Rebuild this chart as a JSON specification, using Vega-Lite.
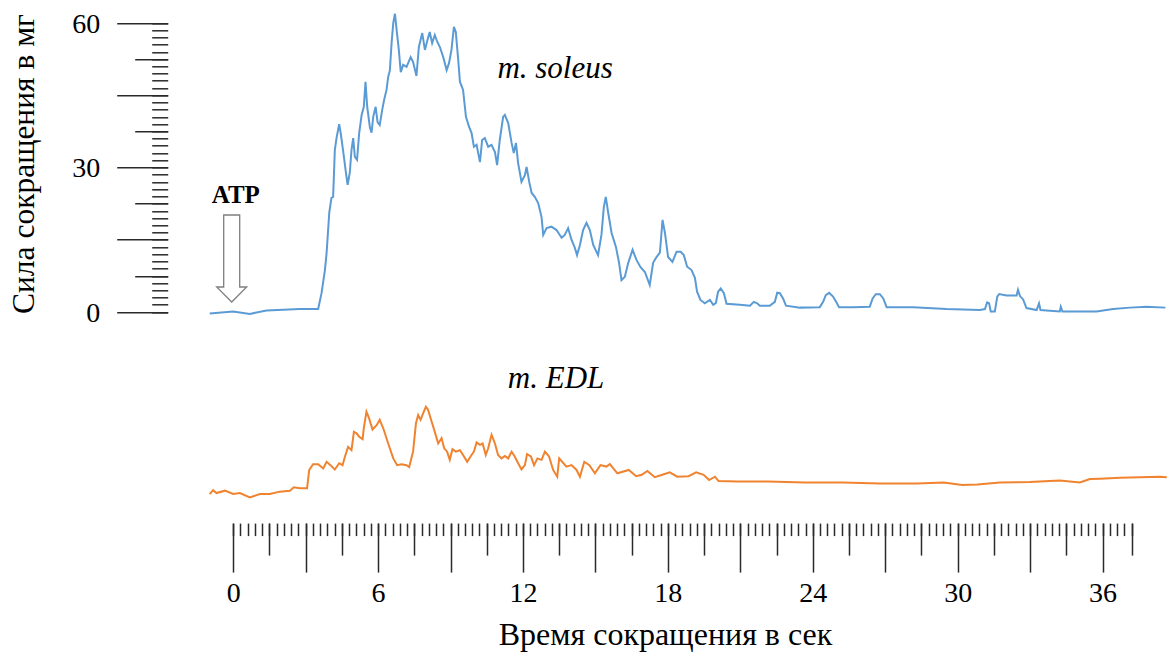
{
  "$schema": "https://vega.github.io/schema/vega-lite/v6.json",
  "width": 959,
  "height": 505.8,
  "autosize": {"type": "none"},
  "padding": {"left": 209, "top": 13.3, "right": 0, "bottom": 133},
  "background": "white",
  "config": {
    "view": {"stroke": null},
    "font": "Liberation Serif",
    "axis": {
      "grid": false,
      "domain": false,
      "tickColor": "#2a2a2a",
      "tickWidth": 1.5,
      "labelFont": "Liberation Serif",
      "titleFont": "Liberation Serif",
      "labelColor": "black",
      "titleColor": "black",
      "labelFontSize": 28,
      "titleFontSize": 32,
      "titleFontWeight": "normal",
      "labelOverlap": false,
      "labelFlush": false
    }
  },
  "datasets": {
    "soleus": [
      {"t": -0.97, "v": -0.3}, {"t": 0, "v": 0.1}, {"t": 0.69, "v": -0.4}, {"t": 1.38, "v": 0.3}, {"t": 2.76, "v": 0.6}, {"t": 3.52, "v": 0.6},
      {"t": 3.66, "v": 3.9}, {"t": 3.8, "v": 8.7}, {"t": 3.87, "v": 12.3}, {"t": 3.98, "v": 20.6}, {"t": 4.07, "v": 23.7}, {"t": 4.14, "v": 23.9},
      {"t": 4.21, "v": 33.6}, {"t": 4.28, "v": 36.1}, {"t": 4.39, "v": 39.0}, {"t": 4.45, "v": 37.2}, {"t": 4.55, "v": 33.6}, {"t": 4.67, "v": 28.9},
      {"t": 4.74, "v": 26.4}, {"t": 4.83, "v": 28.9}, {"t": 4.9, "v": 33.6}, {"t": 4.97, "v": 36.1}, {"t": 5.04, "v": 32.2}, {"t": 5.13, "v": 31.6},
      {"t": 5.22, "v": 37.2}, {"t": 5.32, "v": 40.9}, {"t": 5.41, "v": 42.6}, {"t": 5.48, "v": 47.8}, {"t": 5.55, "v": 42.6}, {"t": 5.66, "v": 38.4},
      {"t": 5.73, "v": 37.2}, {"t": 5.8, "v": 40.5}, {"t": 5.9, "v": 42.6}, {"t": 5.98, "v": 39.4}, {"t": 6.07, "v": 38.8}, {"t": 6.17, "v": 41.9},
      {"t": 6.25, "v": 44.0}, {"t": 6.35, "v": 46.1}, {"t": 6.42, "v": 48.8}, {"t": 6.49, "v": 50.2}, {"t": 6.56, "v": 55.8}, {"t": 6.63, "v": 60.0},
      {"t": 6.7, "v": 61.9}, {"t": 6.77, "v": 58.5}, {"t": 6.86, "v": 54.4}, {"t": 6.94, "v": 49.8}, {"t": 7.04, "v": 51.3}, {"t": 7.18, "v": 50.9},
      {"t": 7.35, "v": 52.9}, {"t": 7.45, "v": 51.9}, {"t": 7.59, "v": 49.0}, {"t": 7.69, "v": 55.0}, {"t": 7.83, "v": 57.9}, {"t": 7.94, "v": 54.4},
      {"t": 8.07, "v": 56.9}, {"t": 8.14, "v": 58.1}, {"t": 8.24, "v": 55.8}, {"t": 8.35, "v": 57.5}, {"t": 8.45, "v": 56.1}, {"t": 8.56, "v": 55.0},
      {"t": 8.7, "v": 52.9}, {"t": 8.84, "v": 50.2}, {"t": 8.94, "v": 51.7}, {"t": 9.04, "v": 54.4}, {"t": 9.14, "v": 59.2}, {"t": 9.22, "v": 58.1},
      {"t": 9.32, "v": 52.3}, {"t": 9.39, "v": 47.8}, {"t": 9.52, "v": 46.1}, {"t": 9.64, "v": 40.5}, {"t": 9.77, "v": 38.4}, {"t": 9.87, "v": 37.2},
      {"t": 9.97, "v": 34.3}, {"t": 10.08, "v": 34.7}, {"t": 10.22, "v": 31.1}, {"t": 10.31, "v": 35.7}, {"t": 10.42, "v": 36.1}, {"t": 10.56, "v": 34.3},
      {"t": 10.7, "v": 34.7}, {"t": 10.84, "v": 33.2}, {"t": 10.93, "v": 30.5}, {"t": 11.04, "v": 35.7}, {"t": 11.18, "v": 40.5}, {"t": 11.25, "v": 40.9},
      {"t": 11.39, "v": 39.2}, {"t": 11.53, "v": 35.1}, {"t": 11.62, "v": 33.0}, {"t": 11.71, "v": 35.1}, {"t": 11.8, "v": 30.9}, {"t": 11.94, "v": 27.0},
      {"t": 12.08, "v": 28.4}, {"t": 12.15, "v": 30.1}, {"t": 12.26, "v": 27.0}, {"t": 12.36, "v": 24.7}, {"t": 12.49, "v": 23.9}, {"t": 12.63, "v": 22.6},
      {"t": 12.77, "v": 19.7}, {"t": 12.84, "v": 16.0}, {"t": 12.98, "v": 17.4}, {"t": 13.18, "v": 17.7}, {"t": 13.39, "v": 17.0}, {"t": 13.6, "v": 15.4},
      {"t": 13.73, "v": 16.0}, {"t": 13.87, "v": 17.4}, {"t": 14.01, "v": 15.0}, {"t": 14.15, "v": 13.3}, {"t": 14.24, "v": 11.8}, {"t": 14.36, "v": 13.9},
      {"t": 14.49, "v": 17.0}, {"t": 14.63, "v": 18.5}, {"t": 14.77, "v": 17.0}, {"t": 14.91, "v": 13.9}, {"t": 15.11, "v": 11.8}, {"t": 15.25, "v": 16.0},
      {"t": 15.35, "v": 21.8}, {"t": 15.43, "v": 23.9}, {"t": 15.53, "v": 20.6}, {"t": 15.67, "v": 16.4}, {"t": 15.85, "v": 13.5}, {"t": 15.98, "v": 10.2},
      {"t": 16.08, "v": 6.6}, {"t": 16.22, "v": 7.3}, {"t": 16.36, "v": 10.2}, {"t": 16.54, "v": 12.9}, {"t": 16.7, "v": 10.8}, {"t": 16.87, "v": 9.3},
      {"t": 17.05, "v": 8.3}, {"t": 17.25, "v": 5.6}, {"t": 17.39, "v": 10.2}, {"t": 17.53, "v": 11.4}, {"t": 17.67, "v": 12.3}, {"t": 17.78, "v": 19.1},
      {"t": 17.88, "v": 16.4}, {"t": 18.01, "v": 11.4}, {"t": 18.19, "v": 10.4}, {"t": 18.36, "v": 12.5}, {"t": 18.53, "v": 12.5}, {"t": 18.66, "v": 11.8},
      {"t": 18.8, "v": 9.4}, {"t": 18.98, "v": 8.7}, {"t": 19.12, "v": 7.1}, {"t": 19.21, "v": 4.2}, {"t": 19.35, "v": 2.5}, {"t": 19.53, "v": 1.8},
      {"t": 19.74, "v": 2.5}, {"t": 19.88, "v": 1.5}, {"t": 19.99, "v": 1.9}, {"t": 20.08, "v": 4.2}, {"t": 20.19, "v": 4.9}, {"t": 20.32, "v": 3.9},
      {"t": 20.43, "v": 1.7}, {"t": 20.98, "v": 1.5}, {"t": 21.4, "v": 1.3}, {"t": 21.56, "v": 2.1}, {"t": 21.7, "v": 1.8}, {"t": 21.81, "v": 1.3},
      {"t": 22.22, "v": 1.3}, {"t": 22.43, "v": 2.1}, {"t": 22.53, "v": 4.0}, {"t": 22.64, "v": 3.9}, {"t": 22.77, "v": 2.8}, {"t": 22.89, "v": 1.3},
      {"t": 23.47, "v": 0.9}, {"t": 24.29, "v": 1.0}, {"t": 24.43, "v": 2.1}, {"t": 24.54, "v": 3.5}, {"t": 24.68, "v": 4.0}, {"t": 24.84, "v": 3.2},
      {"t": 24.99, "v": 1.9}, {"t": 25.09, "v": 1.0}, {"t": 25.67, "v": 1.0}, {"t": 26.36, "v": 1.1}, {"t": 26.48, "v": 2.8}, {"t": 26.61, "v": 3.7},
      {"t": 26.78, "v": 3.7}, {"t": 26.92, "v": 2.8}, {"t": 27.06, "v": 1.0}, {"t": 28.16, "v": 1.0}, {"t": 29.54, "v": 0.6}, {"t": 30.92, "v": 0.4},
      {"t": 31.13, "v": 0.6}, {"t": 31.22, "v": 2.0}, {"t": 31.3, "v": 1.8}, {"t": 31.37, "v": 0.1}, {"t": 31.54, "v": 0.1}, {"t": 31.64, "v": 3.2},
      {"t": 31.72, "v": 3.7}, {"t": 32.02, "v": 3.4}, {"t": 32.44, "v": 3.4}, {"t": 32.5, "v": 4.6}, {"t": 32.58, "v": 3.3}, {"t": 32.71, "v": 2.6},
      {"t": 32.85, "v": 0.8}, {"t": 33.27, "v": 0.4}, {"t": 33.37, "v": 1.8}, {"t": 33.43, "v": 0.4}, {"t": 33.68, "v": 0.3}, {"t": 34.23, "v": 0.1},
      {"t": 34.27, "v": 1.1}, {"t": 34.34, "v": 0.1}, {"t": 35.06, "v": 0.1}, {"t": 35.75, "v": 0.1}, {"t": 36.44, "v": 0.6}, {"t": 37.13, "v": 0.9},
      {"t": 37.82, "v": 1.1}, {"t": 38.6, "v": 0.9}
    ],
    "edl": [
      {"t": -0.97, "v": -37.8}, {"t": -0.83, "v": -37.0}, {"t": -0.69, "v": -37.6}, {"t": -0.34, "v": -37.1}, {"t": 0, "v": -37.8}, {"t": 0.28, "v": -37.6},
      {"t": 0.69, "v": -38.5}, {"t": 1.11, "v": -37.8}, {"t": 1.52, "v": -37.8}, {"t": 1.93, "v": -37.3}, {"t": 2.35, "v": -37.1}, {"t": 2.51, "v": -36.4},
      {"t": 2.76, "v": -36.6}, {"t": 3.06, "v": -36.6}, {"t": 3.15, "v": -32.8}, {"t": 3.31, "v": -31.6}, {"t": 3.52, "v": -31.6}, {"t": 3.73, "v": -32.5},
      {"t": 3.87, "v": -31.1}, {"t": 4.03, "v": -31.8}, {"t": 4.21, "v": -32.7}, {"t": 4.39, "v": -31.4}, {"t": 4.53, "v": -31.8}, {"t": 4.63, "v": -30.0},
      {"t": 4.76, "v": -28.0}, {"t": 4.9, "v": -28.7}, {"t": 5.0, "v": -24.9}, {"t": 5.11, "v": -25.2}, {"t": 5.22, "v": -25.9}, {"t": 5.36, "v": -26.4},
      {"t": 5.41, "v": -24.1}, {"t": 5.52, "v": -20.7}, {"t": 5.63, "v": -22.1}, {"t": 5.77, "v": -24.4}, {"t": 5.94, "v": -23.5}, {"t": 6.07, "v": -22.4},
      {"t": 6.24, "v": -24.5}, {"t": 6.42, "v": -27.3}, {"t": 6.63, "v": -30.4}, {"t": 6.79, "v": -31.8}, {"t": 6.97, "v": -31.6}, {"t": 7.18, "v": -31.8},
      {"t": 7.29, "v": -32.2}, {"t": 7.45, "v": -29.0}, {"t": 7.57, "v": -23.1}, {"t": 7.66, "v": -21.4}, {"t": 7.76, "v": -22.4}, {"t": 7.87, "v": -21.0},
      {"t": 7.98, "v": -19.7}, {"t": 8.07, "v": -20.3}, {"t": 8.22, "v": -22.8}, {"t": 8.35, "v": -24.9}, {"t": 8.49, "v": -27.3}, {"t": 8.63, "v": -26.2},
      {"t": 8.74, "v": -28.3}, {"t": 8.86, "v": -29.0}, {"t": 8.97, "v": -30.7}, {"t": 9.08, "v": -28.5}, {"t": 9.22, "v": -29.0}, {"t": 9.39, "v": -28.7},
      {"t": 9.52, "v": -29.7}, {"t": 9.69, "v": -31.1}, {"t": 9.87, "v": -29.7}, {"t": 9.97, "v": -29.0}, {"t": 10.08, "v": -27.1}, {"t": 10.22, "v": -27.6},
      {"t": 10.33, "v": -27.3}, {"t": 10.46, "v": -29.7}, {"t": 10.56, "v": -28.3}, {"t": 10.7, "v": -25.5}, {"t": 10.84, "v": -27.3}, {"t": 10.97, "v": -29.7},
      {"t": 11.11, "v": -30.4}, {"t": 11.25, "v": -29.9}, {"t": 11.39, "v": -30.4}, {"t": 11.53, "v": -29.0}, {"t": 11.66, "v": -30.0}, {"t": 11.8, "v": -31.4},
      {"t": 11.94, "v": -32.7}, {"t": 12.08, "v": -31.8}, {"t": 12.17, "v": -29.5}, {"t": 12.33, "v": -30.0}, {"t": 12.46, "v": -31.8}, {"t": 12.6, "v": -30.4},
      {"t": 12.77, "v": -30.7}, {"t": 12.91, "v": -29.0}, {"t": 13.08, "v": -30.0}, {"t": 13.25, "v": -32.8}, {"t": 13.42, "v": -34.2}, {"t": 13.5, "v": -30.4},
      {"t": 13.66, "v": -31.3}, {"t": 13.8, "v": -32.1}, {"t": 14.01, "v": -31.8}, {"t": 14.22, "v": -32.8}, {"t": 14.36, "v": -34.2}, {"t": 14.54, "v": -31.1},
      {"t": 14.75, "v": -31.8}, {"t": 14.98, "v": -33.5}, {"t": 15.21, "v": -31.8}, {"t": 15.45, "v": -32.1}, {"t": 15.6, "v": -31.6}, {"t": 15.91, "v": -33.5},
      {"t": 16.38, "v": -32.8}, {"t": 16.69, "v": -34.1}, {"t": 16.92, "v": -33.8}, {"t": 17.15, "v": -33.0}, {"t": 17.46, "v": -34.3}, {"t": 17.77, "v": -33.8},
      {"t": 18.08, "v": -33.3}, {"t": 18.39, "v": -34.2}, {"t": 18.86, "v": -34.1}, {"t": 19.17, "v": -33.3}, {"t": 19.48, "v": -33.8}, {"t": 19.71, "v": -34.9},
      {"t": 19.95, "v": -34.2}, {"t": 20.1, "v": -35.1}, {"t": 20.88, "v": -35.2}, {"t": 22.12, "v": -35.2}, {"t": 23.67, "v": -35.4}, {"t": 25.23, "v": -35.4},
      {"t": 26.78, "v": -35.6}, {"t": 28.33, "v": -35.6}, {"t": 29.42, "v": -35.4}, {"t": 30.19, "v": -35.9}, {"t": 30.82, "v": -35.8}, {"t": 31.75, "v": -35.4},
      {"t": 32.99, "v": -35.3}, {"t": 34.23, "v": -35.0}, {"t": 35.06, "v": -35.4}, {"t": 35.48, "v": -34.7}, {"t": 35.89, "v": -34.6}, {"t": 36.72, "v": -34.4},
      {"t": 37.55, "v": -34.3}, {"t": 38.37, "v": -34.2}, {"t": 38.66, "v": -34.3}
    ],
    "italicLabels": [
      {"t": 13.33, "v": 48.6, "label": "m. soleus"},
      {"t": 13.37, "v": -15.8, "label": "m. EDL"}
    ],
    "boldLabels": [
      {"t": 0.11, "v": 22.6, "label": "ATP"}
    ],
    "arrow": [
      {"t": -0.06, "v": 11.1}
    ]
  },
  "resolve": {"axis": {"x": "independent", "y": "independent"}},
  "layer": [
    {
      "data": {"name": "soleus"},
      "mark": {"type": "line", "color": "#5B9BD5", "strokeWidth": 2},
      "encoding": {
        "x": {
          "field": "t", "type": "quantitative",
          "scale": {"domain": [-1, 38.71], "nice": false, "zero": false},
          "axis": {
            "orient": "bottom", "offset": 4, "tickSize": 49,
            "values": [0, 3, 6, 9, 12, 15, 18, 21, 24, 27, 30, 33, 36],
            "labelExpr": "datum.value % 6 === 0 ? datum.label : ''",
            "labelBaseline": "alphabetic", "labelPadding": 29.7,
            "title": "Время сокращения в сек",
            "titleX": 456, "titleY": 121, "titleBaseline": "alphabetic", "titleAlign": "center"
          }
        },
        "y": {
          "field": "v", "type": "quantitative",
          "scale": {"domain": [-43, 62], "nice": false, "zero": false},
          "axis": {
            "orient": "left", "offset": 41.3, "tickSize": 51,
            "values": [0, 15, 30, 45, 60],
            "labelExpr": "datum.value % 30 === 0 ? datum.label : ''",
            "labelPadding": 17, "labelOffset": 1.5,
            "title": "Сила сокращения в мг",
            "titleX": -134.2, "titleY": 150.2, "titleAngle": -90, "titleBaseline": "alphabetic", "titleAlign": "center", "titleFontSize": 31.5
          }
        }
      }
    },
    {
      "data": {"name": "edl"},
      "mark": {"type": "line", "color": "#F0832F", "strokeWidth": 2},
      "encoding": {
        "x": {
          "field": "t", "type": "quantitative",
          "scale": {"domain": [-1, 38.71], "nice": false, "zero": false},
          "axis": {
            "orient": "bottom", "offset": 4, "tickSize": 32, "labels": false, "title": null,
            "values": [1.5, 4.5, 7.5, 10.5, 13.5, 16.5, 19.5, 22.5, 25.5, 28.5, 31.5, 34.5, 37.2]
          }
        },
        "y": {
          "field": "v", "type": "quantitative",
          "scale": {"domain": [-43, 62], "nice": false, "zero": false},
          "axis": {
            "orient": "left", "offset": 41.3, "tickSize": 33, "labels": false, "title": null,
            "values": [7.5, 22.5, 37.5, 52.5]
          }
        }
      }
    },
    {
      "data": {"name": "arrow"},
      "mark": {
        "type": "point", "filled": true, "fill": "white", "stroke": "#7F7F7F", "strokeWidth": 1.3, "opacity": 1,
        "size": 7569,
        "shape": "M-0.184,-1 L0.184,-1 L0.184,0.655 L0.345,0.655 L0,1 L-0.345,0.655 L-0.184,0.655 Z"
      },
      "encoding": {
        "x": {
          "field": "t", "type": "quantitative",
          "scale": {"domain": [-1, 38.71], "nice": false, "zero": false},
          "axis": {
            "orient": "bottom", "offset": 4, "tickSize": 12.5, "labels": false, "title": null,
            "values": [0, 0.3, 0.6, 0.9, 1.2, 1.5, 1.8, 2.1, 2.4, 2.7, 3, 3.3, 3.6, 3.9, 4.2, 4.5, 4.8, 5.1, 5.4, 5.7, 6, 6.3, 6.6, 6.9, 7.2, 7.5, 7.8, 8.1, 8.4, 8.7, 9, 9.3, 9.6, 9.9, 10.2, 10.5, 10.8, 11.1, 11.4, 11.7, 12, 12.3, 12.6, 12.9, 13.2, 13.5, 13.8, 14.1, 14.4, 14.7, 15, 15.3, 15.6, 15.9, 16.2, 16.5, 16.8, 17.1, 17.4, 17.7, 18, 18.3, 18.6, 18.9, 19.2, 19.5, 19.8, 20.1, 20.4, 20.7, 21, 21.3, 21.6, 21.9, 22.2, 22.5, 22.8, 23.1, 23.4, 23.7, 24, 24.3, 24.6, 24.9, 25.2, 25.5, 25.8, 26.1, 26.4, 26.7, 27, 27.3, 27.6, 27.9, 28.2, 28.5, 28.8, 29.1, 29.4, 29.7, 30, 30.3, 30.6, 30.9, 31.2, 31.5, 31.8, 32.1, 32.4, 32.7, 33, 33.3, 33.6, 33.9, 34.2, 34.5, 34.8, 35.1, 35.4, 35.7, 36, 36.3, 36.6, 36.9, 37.2]
          }
        },
        "y": {
          "field": "v", "type": "quantitative",
          "scale": {"domain": [-43, 62], "nice": false, "zero": false},
          "axis": {
            "orient": "left", "offset": 41.3, "tickSize": 16, "labels": false, "title": null,
            "values": [0, 1.5, 3, 4.5, 6, 7.5, 9, 10.5, 12, 13.5, 15, 16.5, 18, 19.5, 21, 22.5, 24, 25.5, 27, 28.5, 30, 31.5, 33, 34.5, 36, 37.5, 39, 40.5, 42, 43.5, 45, 46.5, 48, 49.5, 51, 52.5, 54, 55.5, 57, 58.5, 60]
          }
        }
      }
    },
    {
      "data": {"name": "italicLabels"},
      "mark": {"type": "text", "font": "Liberation Serif", "fontStyle": "italic", "fontSize": 31, "align": "center", "baseline": "alphabetic", "color": "black"},
      "encoding": {
        "x": {"field": "t", "type": "quantitative", "scale": {"domain": [-1, 38.71], "nice": false, "zero": false}, "axis": null},
        "y": {"field": "v", "type": "quantitative", "scale": {"domain": [-43, 62], "nice": false, "zero": false}, "axis": null},
        "text": {"field": "label"}
      }
    },
    {
      "data": {"name": "boldLabels"},
      "mark": {"type": "text", "font": "Liberation Serif", "fontWeight": "bold", "fontSize": 25, "align": "center", "baseline": "alphabetic", "color": "black"},
      "encoding": {
        "x": {"field": "t", "type": "quantitative", "scale": {"domain": [-1, 38.71], "nice": false, "zero": false}, "axis": null},
        "y": {"field": "v", "type": "quantitative", "scale": {"domain": [-43, 62], "nice": false, "zero": false}, "axis": null},
        "text": {"field": "label"}
      }
    }
  ]
}
